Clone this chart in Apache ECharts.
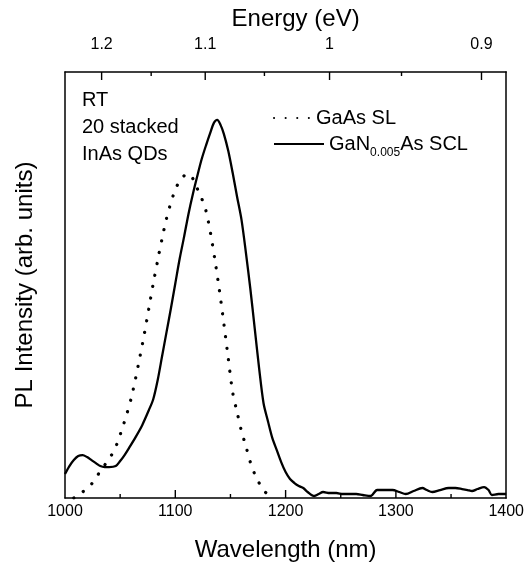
<!DOCTYPE html>
<html>
<head>
<meta charset="utf-8">
<script src="https://cdn.jsdelivr.net/npm/echarts@6/dist/echarts.min.js"></script>
<style>html,body{margin:0;padding:0;background:#fff}#c{width:527px;height:567px}</style>
</head>
<body>
<div id="c"></div>
<script>
// Wavelength (nm) and PL intensity (arb. units)
const wlScl = [1000,1004,1008,1012,1016,1020,1024,1028,1032,1036,1040,1046,1050,1054,1058,1064,1070,1076,1080,1084,1088,1092,1096,1100,1104,1108,1112,1116,1120,1124,1128,1132,1135,1138,1141,1144,1148,1152,1156,1160,1164,1168,1172,1176,1180,1184,1188,1192,1196,1200,1204,1208,1212,1216,1220,1226,1230,1234,1240,1246,1252,1258,1264,1270,1277,1283,1290,1297,1303,1309,1316,1324,1328,1333,1340,1348,1354,1360,1365,1369,1374,1380,1384,1387,1393,1400];
const intScl = [24,32,38,42,43,41,38,35,32,31,31,32,37,43,50,61,73,88,99,118,142,166,190,215,240,262,285,305,323,340,354,367,376,379,374,365,348,326,302,279,246,210,170,130,95,77,60,48,36,26,19,15,12,10,6,2,4,6,5,5,4,4,4,3,2,8,8,8,6,4,7,10,8,6,8,10,10,9,8,7,9,11,8,3,4,4];
const wlSl = [1008,1012,1016,1020,1024,1028,1032,1036,1040,1044,1048,1052,1056,1060,1064,1068,1072,1076,1080,1084,1088,1092,1096,1100,1104,1108,1112,1116,1120,1124,1128,1132,1136,1140,1144,1148,1152,1156,1160,1164,1168,1172,1176,1180,1184,1186];
const intSl = [0,2,6,10,14,20,27,33,40,46,57,70,84,100,120,142,165,190,215,238,260,280,296,309,318,323,325,320,310,300,287,265,238,208,175,140,106,86,67,52,36,24,15,8,3,0];
const energyTicks = [1.2, 1.1, 1.0, 0.9];
const energyMinor = [1.15, 1.05, 0.95];
const HC = 1239.84;
const wlTicks = [1000, 1100, 1200, 1300, 1400];
const wlMinor = [1050, 1150, 1250, 1350];
const seriesNames = ['GaAs SL', 'GaN0.005As SCL'];
const notes = ['RT', '20 stacked', 'InAs QDs'];

const FONT = '"Liberation Sans", Arial, sans-serif';
const Y_MIN = 0, Y_MAX = 427; // plot height is 427 px, so 1 unit = 1 px
const chart = echarts.init(document.getElementById('c'), null, {renderer: 'canvas'});
const zip = (a, b) => a.map((v, i) => [v, b[i]]);
const LINE = {show: true, onZero: false, lineStyle: {color: '#000', width: 1.5}};

// tick marks: short segments on the axis values, broken by null points
const tickSeries = (xs, base, len, dir) => {
  const data = [];
  xs.forEach(x => { data.push([x, base], [x, base + dir * len], [x, null]); });
  return {type: 'line', silent: true, z: 5, symbol: 'none', connectNulls: false,
    data: data, lineStyle: {color: '#000', width: 1.4, cap: 'butt'},
    emphasis: {disabled: true}, tooltip: {show: false}};
};

chart.setOption({
  animation: false,
  backgroundColor: '#fff',
  textStyle: {fontFamily: FONT, color: '#000'},
  grid: {left: 65, right: 20, top: 72, bottom: 68},
  legend: [
    {data: [seriesNames[0]], left: 273, top: 108, padding: 0, itemWidth: 37, itemHeight: 14,
     itemStyle: {opacity: 0},
     textStyle: {fontSize: 20, fontFamily: FONT, color: '#000'}},
    {data: [seriesNames[1]], left: 273, top: 134, padding: 0, itemWidth: 50, itemHeight: 14,
     itemStyle: {opacity: 0},
     formatter: () => '{n|GaN}{s|0.005}{n|As SCL}',
     textStyle: {fontFamily: FONT, color: '#000',
       rich: {n: {fontSize: 20, lineHeight: 24, fontFamily: FONT, color: '#000'},
              s: {fontSize: 12, padding: [18, 0, 0, 0], fontFamily: FONT, color: '#000'}}}}
  ],
  xAxis: [
    {type: 'value', min: wlTicks[0], max: wlTicks[wlTicks.length - 1], interval: 100, position: 'bottom',
     name: 'Wavelength (nm)', nameLocation: 'middle', nameGap: 40,
     nameTextStyle: {fontSize: 24, fontFamily: FONT, color: '#000'},
     axisLine: LINE, axisTick: {show: false}, minorTick: {show: false},
     axisLabel: {fontSize: 16, margin: 6, color: '#000', fontFamily: FONT, formatter: v => String(v)},
     splitLine: {show: false}},
    {type: 'value', min: 1000, max: 1400, position: 'top',
     name: 'Energy (eV)', nameLocation: 'middle', nameGap: 41,
     nameTextStyle: {fontSize: 24, fontFamily: FONT, color: '#000', padding: [0, 0, 0, 20]},
     axisLine: LINE, axisTick: {show: false},
     axisLabel: {fontSize: 16, margin: 19, color: '#000', fontFamily: FONT,
       customValues: energyTicks.map(e => HC / e),
       formatter: v => String(Math.round(HC / v * 100) / 100)},
     splitLine: {show: false}}
  ],
  yAxis: [
    {type: 'value', min: Y_MIN, max: Y_MAX, position: 'left',
     name: 'PL Intensity (arb. units)', nameLocation: 'middle', nameGap: 28,
     nameTextStyle: {fontSize: 24, fontFamily: FONT, color: '#000'},
     axisLine: LINE, axisTick: {show: false}, axisLabel: {show: false}, splitLine: {show: false}},
    {type: 'value', min: Y_MIN, max: Y_MAX, position: 'right',
     axisLine: LINE, axisTick: {show: false}, axisLabel: {show: false}, splitLine: {show: false}}
  ],
  graphic: [
    {type: 'text', left: 82, top: 87, silent: true,
     style: {text: notes.join('\n'), font: '20px ' + FONT, lineHeight: 27, fill: '#000'}}
  ],
  series: [
    {name: seriesNames[0], type: 'line', data: zip(wlSl, intSl), symbol: 'none', smooth: 0.3,
     lineStyle: {color: '#000', width: 3.2, type: [0.1, 11.5], cap: 'round'}, itemStyle: {color: '#000'}},
    {name: seriesNames[1], type: 'line', data: zip(wlScl, intScl), symbol: 'none', smooth: 0.3,
     lineStyle: {color: '#000', width: 2.3, join: 'round'}, itemStyle: {color: '#000'}},
    tickSeries(wlTicks.slice(1, -1), Y_MIN, 8, 1),
    tickSeries(wlMinor, Y_MIN, 4, 1),
    tickSeries(energyTicks.map(e => HC / e), Y_MAX, 8, -1),
    tickSeries(energyMinor.map(e => HC / e), Y_MAX, 4, -1)
  ]
});
</script>
</body>
</html>
